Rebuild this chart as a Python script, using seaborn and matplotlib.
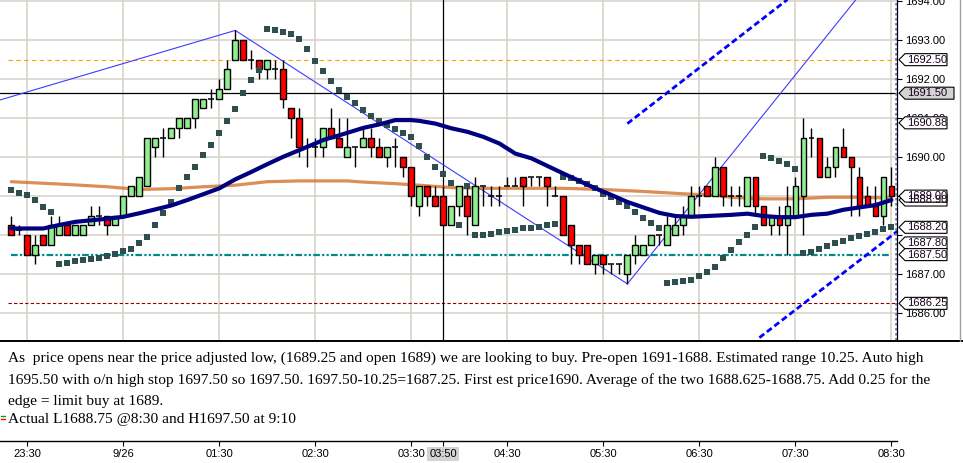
import matplotlib
matplotlib.use("Agg")
import matplotlib.pyplot as plt
import seaborn as sns
import pandas as pd
from matplotlib.patches import Rectangle, Polygon
from matplotlib.lines import Line2D
from matplotlib import transforms

# 5 minute bars, 23:20 .. 08:30
opens = [1688.25, 1688.13, 1688.0, 1687.5, 1688.0, 1687.75, 1688.0, 1688.25, 1688.0, 1688.0,
         1688.25, 1688.5, 1688.5, 1688.25, 1688.5, 1689.0, 1689.0, 1689.25, 1690.25, 1690.5,
         1690.5, 1690.75, 1690.75, 1691.0, 1691.25, 1691.5, 1691.5, 1691.75, 1692.5, 1693.0,
         1692.5, 1692.5, 1692.25, 1692.25, 1692.25, 1691.25, 1691.0, 1690.25, 1690.25, 1690.25,
         1690.75, 1690.5, 1690.0, 1690.25, 1690.25, 1690.5, 1690.25, 1690.0, 1690.25, 1690.0,
         1689.75, 1688.75, 1689.25, 1689.0, 1689.0, 1688.25, 1688.75, 1689.0, 1688.25, 1689.25,
         1689.0, 1689.0, 1689.25, 1689.25, 1689.5, 1689.5, 1689.5, 1689.5, 1689.0, 1689.0,
         1688.25, 1687.75, 1687.75, 1687.25, 1687.5, 1687.25, 1687.25, 1687.0, 1687.5, 1687.5,
         1687.75, 1688.0, 1687.75, 1688.0, 1688.25, 1688.5, 1689.0, 1689.25, 1689.0, 1689.75,
         1689.0, 1689.0, 1688.75, 1689.5, 1688.75, 1688.25, 1688.5, 1688.25, 1688.5, 1689.0,
         1690.5, 1690.5, 1689.5, 1689.75, 1690.25, 1690.0, 1689.5, 1689.0, 1688.75, 1688.5,
         1689.25]
highs = [1688.5, 1688.25, 1688.0, 1688.0, 1688.0, 1688.5, 1688.5, 1688.25, 1688.25, 1688.25,
         1688.75, 1688.75, 1688.5, 1688.5, 1689.0, 1689.25, 1689.5, 1690.5, 1690.5, 1690.75,
         1690.75, 1691.0, 1691.0, 1691.5, 1691.5, 1691.75, 1692.0, 1692.5, 1693.25, 1693.0,
         1692.75, 1692.5, 1692.5, 1692.5, 1692.5, 1691.25, 1691.25, 1690.5, 1690.5, 1690.75,
         1691.25, 1691.0, 1691.0, 1690.25, 1690.75, 1690.75, 1690.5, 1690.25, 1690.5, 1690.0,
         1689.75, 1689.25, 1689.25, 1689.25, 1689.25, 1688.75, 1689.25, 1689.25, 1689.5, 1689.25,
         1689.25, 1689.25, 1689.5, 1689.5, 1689.5, 1689.5, 1689.5, 1689.5, 1689.25, 1689.0,
         1688.25, 1687.75, 1687.75, 1687.5, 1687.5, 1687.25, 1687.25, 1687.5, 1688.0, 1687.75,
         1688.0, 1688.0, 1688.5, 1688.5, 1688.75, 1689.25, 1689.25, 1689.25, 1690.0, 1689.75,
         1689.25, 1689.25, 1689.5, 1689.5, 1688.75, 1688.5, 1688.75, 1689.25, 1689.5, 1691.0,
         1690.75, 1690.5, 1690.0, 1690.25, 1690.75, 1690.0, 1689.75, 1689.25, 1689.25, 1689.5,
         1689.75]
lows = [1688.0, 1688.0, 1687.5, 1687.25, 1687.75, 1687.75, 1688.0, 1688.0, 1688.0, 1688.0,
        1688.25, 1688.25, 1688.0, 1688.25, 1688.5, 1689.0, 1689.0, 1689.25, 1690.0, 1690.0,
        1690.5, 1690.5, 1690.75, 1690.75, 1691.25, 1691.25, 1691.5, 1691.75, 1692.5, 1692.5,
        1692.25, 1692.0, 1692.0, 1692.0, 1691.25, 1690.5, 1690.0, 1689.75, 1690.0, 1690.0,
        1690.5, 1690.25, 1690.0, 1689.75, 1690.25, 1690.0, 1690.0, 1689.75, 1689.75, 1689.5,
        1688.75, 1688.5, 1688.75, 1688.75, 1688.25, 1688.25, 1688.5, 1688.0, 1688.25, 1688.75,
        1688.75, 1688.75, 1689.25, 1689.25, 1688.75, 1689.25, 1689.25, 1688.75, 1689.0, 1688.0,
        1687.25, 1687.25, 1687.25, 1687.0, 1687.0, 1687.0, 1687.0, 1686.75, 1687.25, 1687.5,
        1687.75, 1687.75, 1687.75, 1688.0, 1688.0, 1688.5, 1688.75, 1689.0, 1689.0, 1688.75,
        1688.75, 1688.75, 1688.75, 1688.5, 1688.25, 1688.0, 1688.0, 1687.5, 1688.5, 1688.0,
        1690.0, 1689.5, 1689.5, 1689.5, 1690.0, 1688.5, 1688.5, 1688.75, 1688.5, 1688.25,
        1688.75]
closes = [1688.0, 1688.13, 1687.5, 1687.75, 1687.75, 1688.25, 1688.25, 1688.0, 1688.25, 1688.25,
          1688.5, 1688.5, 1688.25, 1688.5, 1689.0, 1689.25, 1689.5, 1690.5, 1690.5, 1690.5,
          1690.75, 1691.0, 1691.0, 1691.5, 1691.5, 1691.5, 1691.75, 1692.25, 1693.0, 1692.5,
          1692.5, 1692.25, 1692.5, 1692.25, 1691.5, 1691.0, 1690.25, 1690.25, 1690.25, 1690.75,
          1690.5, 1690.25, 1690.25, 1690.25, 1690.5, 1690.25, 1690.0, 1690.25, 1690.25, 1689.75,
          1689.0, 1689.25, 1689.0, 1688.75, 1688.25, 1688.75, 1689.25, 1688.5, 1689.25, 1689.25,
          1689.0, 1689.0, 1689.25, 1689.25, 1689.25, 1689.5, 1689.5, 1689.25, 1689.0, 1688.0,
          1687.75, 1687.5, 1687.25, 1687.5, 1687.25, 1687.25, 1687.25, 1687.5, 1687.75, 1687.75,
          1688.0, 1688.0, 1688.25, 1688.25, 1688.5, 1689.0, 1689.0, 1689.0, 1689.75, 1689.0,
          1689.0, 1689.0, 1689.5, 1688.75, 1688.25, 1688.5, 1688.25, 1688.75, 1689.25, 1690.5,
          1690.5, 1689.5, 1689.75, 1690.25, 1690.0, 1689.75, 1688.75, 1688.75, 1688.5, 1689.5,
          1689.0]

# parabolic SAR dots, one per bar
sar = [1689.15, 1689.08, 1689.03, 1688.90, 1688.73, 1688.59,
       1687.26, 1687.29, 1687.33, 1687.36, 1687.38, 1687.41, 1687.46, 1687.51, 1687.58, 1687.65,
       1687.79, 1687.96, 1688.26, 1688.56, 1688.85, 1689.22, 1689.50, 1689.75, 1690.06, 1690.32,
       1690.62, 1690.92, 1691.24, 1691.65, 1691.97, 1692.23,
       1693.29, 1693.26, 1693.22, 1693.15, 1693.02, 1692.78, 1692.47, 1692.20, 1691.95, 1691.72,
       1691.55, 1691.38, 1691.21, 1691.06, 1690.92, 1690.83, 1690.72, 1690.62, 1690.52, 1690.28,
       1690.01, 1689.75, 1689.56, 1689.34,
       1688.26, 1689.27,
       1688.01, 1688.01, 1688.03, 1688.09, 1688.11, 1688.14, 1688.17, 1688.19, 1688.22, 1688.25,
       1688.28,
       1689.50, 1689.47, 1689.38, 1689.30, 1689.22, 1689.05, 1688.97, 1688.85, 1688.74, 1688.60,
       1688.44, 1688.31, 1688.19,
       1686.76, 1686.80, 1686.83, 1686.85, 1686.96, 1687.06, 1687.19, 1687.42, 1687.62, 1687.82,
       1688.01, 1688.20,
       1690.03, 1689.97, 1689.91, 1689.83, 1689.70,
       1687.53, 1687.57, 1687.65, 1687.73, 1687.79, 1687.86, 1687.92, 1687.98, 1688.03, 1688.09,
       1688.15, 1688.21]

# moving averages read at sample bars
navy_x = [0, 4, 6, 8, 10, 12, 14, 16, 18, 20, 22, 24, 26, 28, 30, 32, 34, 36, 38, 39, 41, 44, 46,
          48, 50, 51, 53, 55, 57, 59, 61, 63, 65, 69, 73, 75, 77, 79, 81, 83, 85, 88, 90, 92, 94,
          96, 98, 100, 102, 104, 106, 108, 110]
navy_y = [1688.17, 1688.17, 1688.26, 1688.34, 1688.38, 1688.42, 1688.47, 1688.56, 1688.66,
          1688.76, 1688.90, 1689.05, 1689.20, 1689.43, 1689.62, 1689.82, 1690.01, 1690.18,
          1690.35, 1690.44, 1690.56, 1690.75, 1690.84, 1690.95, 1690.95, 1690.93, 1690.86,
          1690.74, 1690.65, 1690.52, 1690.35, 1690.09, 1689.97, 1689.58, 1689.20, 1689.03,
          1688.85, 1688.71, 1688.57, 1688.49, 1688.47, 1688.50, 1688.52, 1688.55, 1688.49,
          1688.46, 1688.46, 1688.52, 1688.55, 1688.65, 1688.71, 1688.77, 1688.90]
orange_x = [0, 6, 12, 16, 20, 24, 28, 32, 36, 42, 44, 48, 51, 55, 59, 63, 69, 74, 79, 84, 88,
            90, 94, 98, 102, 106, 110]
orange_y = [1689.37, 1689.31, 1689.24, 1689.17, 1689.19, 1689.24, 1689.28, 1689.37, 1689.39,
            1689.39, 1689.36, 1689.32, 1689.28, 1689.22, 1689.20, 1689.20, 1689.20, 1689.17,
            1689.12, 1689.06, 1689.02, 1688.97, 1688.93, 1688.93, 1688.97, 1688.97, 1688.95]

# drawn lines
zigzag_x = [-2, 28, 77, 106]
zigzag_y = [1691.43, 1693.25, 1686.75, 1694.15]
chan_up_x = [77, 97]
chan_up_y = [1690.86, 1694.04]
chan_dn_x = [93.5, 111]
chan_dn_y = [1685.37, 1688.14]
lvl_orange = 1692.50
lvl_teal = 1687.50
lvl_red = 1686.25
cursor_bar = 54
cursor_price = 1691.64
cursor_price_txt = "1691.50"

tick_bars = [2, 14, 26, 38, 50, 54, 62, 74, 86, 98, 110]
tick_labels = ["23:30", "9/26", "01:30", "02:30", "03:30", "03:50", "04:30", "05:30",
               "06:30", "07:30", "08:30"]
grid_bars = [2, 14, 26, 38, 50, 62, 74, 86, 98, 110]
price_ticks = [1686, 1687, 1688, 1689, 1690, 1691, 1692, 1693, 1694]
# these tick labels sit fully under price boxes
covered_ticks = [1688, 1689]

box_vals = [1692.50, 1690.88, 1688.90, 1689.00, 1688.20, 1687.80, 1687.50, 1686.25]

note_lines = [
    "As  price opens near the price adjusted low, (1689.25 and open 1689) we are looking to buy. "
    "Pre-open 1691-1688. Estimated range 10.25. Auto high",
    "1695.50 with o/n high stop 1697.50 so 1697.50. 1697.50-10.25=1687.25. First est price1690. "
    "Average of the two 1688.625-1688.75. Add 0.25 for the",
    "edge = limit buy at 1689.",
    "Actual L1688.75 @8:30 and H1697.50 at 9:10",
]

sns.set_theme(style="white")
plt.rcParams["font.family"] = ["Liberation Sans", "DejaVu Sans"]

W, H = 963, 463
fig = plt.figure(figsize=(W / 100, H / 100), dpi=100)
fig.patch.set_facecolor("white")
ax = fig.add_axes([0, 123 / H, 897 / W, 340 / H])
ax.set_xlim(-1.41, 110.7)
ax.set_ylim(1685.31, 1694.03)
ax.set_facecolor("white")

for b in grid_bars:
    ax.axvline(b, color="#d4d0c8", lw=1.1, zorder=0.5)
for p in price_ticks:
    ax.axhline(p, color="#d4d0c8", lw=1.1, zorder=0.5)

# level lines
ax.hlines(lvl_orange, -0.4, 110.7, color="#ffa500", lw=0.8, linestyles=(0, (4, 3)), zorder=1)
ax.hlines(lvl_teal, 0, 109.7, color="#008b8b", lw=1.6,
          linestyles=(0, (3, 1, 1, 1, 1, 1)), zorder=1)
ax.hlines(lvl_red, -0.4, 110.7, color="#8b0000", lw=0.8, linestyles=(0, (3, 2)), zorder=1)

# crosshair
ax.axhline(cursor_price, color="black", lw=0.9, zorder=1.2)
ax.axvline(cursor_bar, color="black", lw=0.9, zorder=1.2)

# trend lines
ax.plot(zigzag_x, zigzag_y, color="#3c3cff", lw=0.8, zorder=1.5)
ax.plot(chan_up_x, chan_up_y, color="#0000ff", lw=2.0, dashes=(2.2, 1.2), zorder=1.5)
ax.plot(chan_dn_x, chan_dn_y, color="#0000ff", lw=2.0, dashes=(2.2, 1.2), zorder=1.5)

# orange MA under the candles
sns.lineplot(x=orange_x, y=orange_y, ax=ax, color="#d2691e", lw=2.3, alpha=0.75,
             legend=False, zorder=2)

# candles
bw = 0.72
for i in range(len(opens)):
    o, h, l, c = opens[i], highs[i], lows[i], closes[i]
    ax.vlines(i, l, h, color="black", lw=1.0, zorder=3)
    if c == o:
        ax.hlines(o, i - bw / 2, i + bw / 2, color="black", lw=1.1, zorder=3.2)
    else:
        fc = "#90ee90" if c > o else "#ff0000"
        ax.add_patch(Rectangle((i - bw / 2, min(o, c)), bw, abs(c - o), facecolor=fc,
                               edgecolor="black", lw=1.0, zorder=3.1))

sar_df = pd.DataFrame({"bar": range(len(sar)), "sar": sar})
sns.scatterplot(data=sar_df, x="bar", y="sar", ax=ax, marker="s", s=15, color="#2f4f4f",
                linewidth=0, legend=False, zorder=3.5)

sns.lineplot(x=navy_x, y=navy_y, ax=ax, color="#000080", lw=3.0, legend=False, zorder=4)

ax.axvline(110.58, color="#7070b0", lw=1.8, ls=(0, (1, 1)), zorder=5)

ax.set_xticks(grid_bars)
ax.tick_params(axis="x", length=0, labelbottom=False)
ax.set_xlabel("")
ax.set_ylabel("")
ax.yaxis.tick_right()
ax.set_yticks(price_ticks)
ax.set_yticklabels(["" if p in covered_ticks else f"{p:.2f}" for p in price_ticks])
ax.tick_params(axis="y", direction="out", length=3.6, width=0.8, pad=2.0, labelsize=8,
               colors="black", right=True, left=False)
for s in ["top", "left", "bottom"]:
    ax.spines[s].set_visible(False)
ax.spines["right"].set_color("black")
ax.spines["right"].set_linewidth(0.9)

# price boxes on the right axis
bt = transforms.blended_transform_factory(ax.transAxes, ax.transData)
hh = 6 / 39
tip, x0 = 899 / 897, 905 / 897


def price_box(val, txt, x1, fc):
    pts = [(tip, val), (x0, val + hh), (x1, val + hh), (x1, val - hh), (x0, val - hh)]
    ax.add_patch(Polygon(pts, closed=True, transform=bt, facecolor=fc, edgecolor="black",
                         lw=0.8, clip_on=False, zorder=6))
    ax.text(907 / 897, val, txt, transform=bt, fontsize=8, va="center", ha="left",
            color="#1a001a", clip_on=False, zorder=7)


for v in box_vals:
    price_box(v, f"{v:.2f}", 947 / 897, "white")
price_box(cursor_price, cursor_price_txt, 954 / 897, "#d3d3d3")

# separators and borders
fig.add_artist(Line2D([0, 1], [1 - 341 / H, 1 - 341 / H], color="black", lw=1.4))
fig.add_artist(Line2D([960 / W, 960 / W], [1 - 341 / H, 1], color="#a0a0a0", lw=1.0))

# time axis
axb = fig.add_axes([0, 22 / H, 897 / W, 0.15])
axb.set_xlim(ax.get_xlim())
axb.patch.set_alpha(0)
for s in ["top", "left", "right"]:
    axb.spines[s].set_visible(False)
axb.spines["bottom"].set_color("black")
axb.spines["bottom"].set_linewidth(1.0)
axb.set_yticks([])
axb.set_xticks(tick_bars)
axb.set_xticklabels(tick_labels)
axb.tick_params(axis="x", direction="out", length=3.5, width=0.8, pad=2.0, labelsize=8,
                colors="black", bottom=True)
for lab in axb.get_xticklabels():
    if lab.get_text() == tick_labels[tick_bars.index(cursor_bar)]:
        lab.set_bbox(dict(facecolor="#d3d3d3", edgecolor="none", pad=1.5))

# note text
ys = [358, 380, 401, 419]
for txt, y in zip(note_lines, ys):
    fig.text(8 / W, 1 - y / H, txt, fontsize=11.1, family=["Liberation Serif", "DejaVu Serif"],
             va="center", ha="left", color="black")
fig.add_artist(Line2D([1 / W, 5 / W], [1 - 416 / H, 1 - 416 / H], color="#00a000", lw=1.0))
fig.add_artist(Line2D([1 / W, 5 / W], [1 - 419 / H, 1 - 419 / H], color="#ff0000", lw=1.0))

fig.savefig("out.png", dpi=100, facecolor="white")
